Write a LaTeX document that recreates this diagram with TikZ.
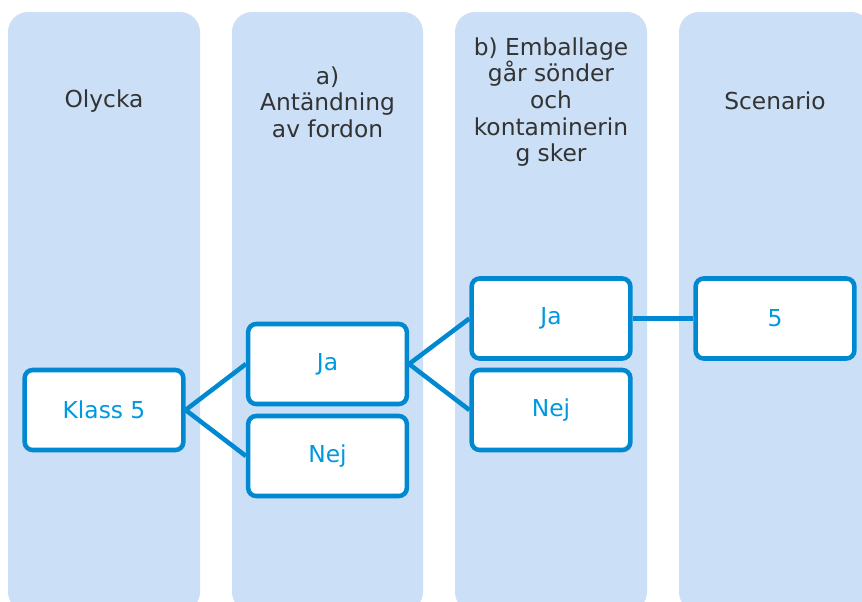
\documentclass[tikz,border=0pt]{standalone}
\usepackage{fontspec}
\setmainfont{DejaVu Sans}
\definecolor{colfill}{RGB}{203,223,247}
\definecolor{boxline}{RGB}{0,137,208}
\definecolor{boxtext}{RGB}{0,153,224}
\definecolor{headtext}{RGB}{51,51,51}
\begin{document}
\begin{tikzpicture}[x=0.75pt,y=-0.75pt,
  colbg/.style={fill=colfill,rounded corners=15pt},
  heading/.style={text=headtext,align=center,font=\fontsize{17.5}{20}\selectfont,inner sep=0pt},
  choice/.style={draw=boxline,line width=3.4pt,fill=white,rounded corners=6pt,
    minimum width=119pt,minimum height=60pt,inner sep=0pt,text=boxtext,
    font=\fontsize{17.5}{20}\selectfont},
  link/.style={draw=boxline,line width=3.4pt}]
\useasboundingbox (0,0) rectangle (862,601);
\clip (0,0) rectangle (862,601);
\fill[colbg] (8,12) rectangle (200,612);
\fill[colbg] (232,12) rectangle (423,612);
\fill[colbg] (455,12) rectangle (647,612);
\fill[colbg] (679,12) rectangle (871,612);
\node[heading] (h1) at (104,101) {Olycka};
\node[heading] (h2) at (327.5,102) {a)\\Antändning\\av fordon};
\node[heading] (h3) at (551,102) {b) Emballage\\går sönder\\och\\kontaminerin\\g sker};
\node[heading] (h4) at (775,101) {Scenario};
\node[choice] (k5) at (104,410) {Klass 5};
\node[choice] (ja2) at (327.5,364) {Ja};
\node[choice] (nej2) at (327.5,456) {Nej};
\node[choice] (ja3) at (551,318.5) {Ja};
\node[choice] (nej3) at (551,410) {Nej};
\node[choice] (s5) at (775,318.5) {5};
\draw[link] (k5.east) -- (ja2.west);
\draw[link] (k5.east) -- (nej2.west);
\draw[link] (ja2.east) -- (ja3.west);
\draw[link] (ja2.east) -- (nej3.west);
\draw[link] (ja3.east) -- (s5.west);
\end{tikzpicture}
\end{document}
